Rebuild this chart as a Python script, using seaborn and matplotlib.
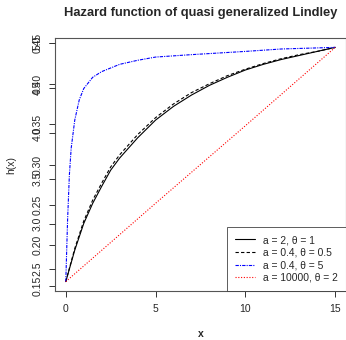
import numpy as np
import pandas as pd
import seaborn as sns
import matplotlib.pyplot as plt

# values, expressed on the 0.15-0.45 left scale
x_pts = [0, 0.5, 1, 1.5, 2, 2.5, 3, 4, 5, 6, 7, 8, 9, 10, 11, 12, 13, 14, 15]
h_a2_t1 = [0.155, 0.194, 0.227, 0.252, 0.273, 0.293, 0.308, 0.333, 0.355, 0.372,
           0.386, 0.398, 0.408, 0.417, 0.424, 0.430, 0.435, 0.440, 0.445]
h_a04_t05 = [0.155, 0.196, 0.230, 0.256, 0.277, 0.297, 0.312, 0.337, 0.358, 0.375,
             0.389, 0.400, 0.410, 0.418, 0.425, 0.431, 0.436, 0.440, 0.445]

x_blue = [0, 0.1, 0.2, 0.3, 0.5, 0.75, 1, 1.5, 2, 3, 4, 5, 7, 10, 12, 15]
h_a04_t5 = [0.155, 0.231, 0.287, 0.320, 0.355, 0.380, 0.394, 0.408, 0.415, 0.424,
            0.429, 0.433, 0.436, 0.440, 0.443, 0.445]

x_red = [0, 5, 10, 15]
h_a10000_t2 = [0.155, 0.252, 0.348, 0.445]

ticks_a = [0.15, 0.20, 0.25, 0.30, 0.35, 0.40, 0.45]
ticks_b = [2.5, 3.0, 3.5, 4.0, 4.5, 5.0]

sns.set_style("ticks")
plt.rcParams["font.family"] = ["Liberation Sans", "DejaVu Sans"]

fig = plt.figure(figsize=(3.46, 3.40), dpi=100)
ax = fig.add_axes([55 / 346, 1 - 291 / 340, 291 / 346, 253 / 340])

sns.lineplot(x=x_pts, y=h_a2_t1, ax=ax, color="black", lw=0.8,
             label="a = 2, \u03b8 = 1")
sns.lineplot(x=x_pts, y=h_a04_t05, ax=ax, color="black", lw=0.8,
             linestyle=(0, (3, 2)), label="a = 0.4, \u03b8 = 0.5")
sns.lineplot(x=x_blue, y=h_a04_t5, ax=ax, color="blue", lw=0.8,
             linestyle=(0, (3, 1, 1, 1)), label="a = 0.4, \u03b8 = 5")
sns.lineplot(x=x_red, y=h_a10000_t2, ax=ax, color="red", lw=0.8,
             linestyle=(0, (1, 1.5)), label="a = 10000, \u03b8 = 2")

ax.set_xlim(-0.6, 15.6)
ax.set_ylim(0.1434, 0.4566)
ax.set_xticks([0, 5, 10, 15])
ax.set_yticks(ticks_a)
ax.set_yticklabels([f"{t:.2f}" for t in ticks_a], rotation=90, va="center")
ax.tick_params(axis="both", labelsize=7.5, length=4, width=0.7, color="#333333",
               pad=5)
for s in ax.spines.values():
    s.set_color("#555555")
    s.set_linewidth(0.8)

# second overlaid scale on the left
ax2 = ax.twinx()
ax2.set_ylim(2.2566, 5.0553)
ax2.yaxis.tick_left()
ax2.set_yticks(ticks_b)
ax2.set_yticklabels([f"{t:.1f}" for t in ticks_b], rotation=90, va="center")
ax2.tick_params(axis="y", labelsize=7.5, length=4, width=0.7, color="#333333",
                pad=5)
for s in ax2.spines.values():
    s.set_visible(False)

ax.set_xlabel("x", fontsize=7.5, fontweight="bold", labelpad=11)
ax.set_ylabel("h(x)", fontsize=7.5, labelpad=12)
ax.set_title("Hazard function of quasi generalized Lindley", fontsize=9.3,
             fontweight="bold", pad=16)

leg = ax.legend(loc="lower right", fontsize=7.4, frameon=True, fancybox=False,
                borderaxespad=0, handlelength=1.9, labelspacing=0.25,
                borderpad=0.8, handletextpad=0.8)
leg.get_frame().set_edgecolor("#333333")
leg.get_frame().set_linewidth(0.7)

fig.savefig("out.png", dpi=100)
